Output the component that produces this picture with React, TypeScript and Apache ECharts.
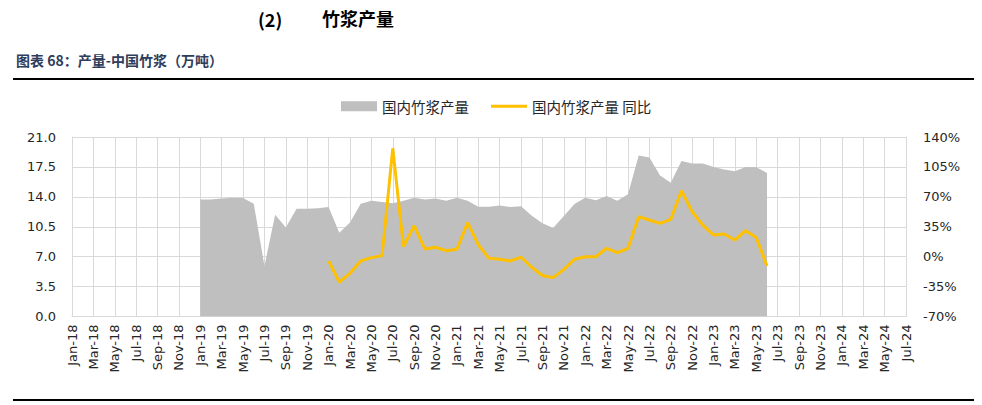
import React, { useEffect, useRef } from "react";
import * as echarts from "echarts";

const monthNames = ["Jan", "Feb", "Mar", "Apr", "May", "Jun", "Jul", "Aug", "Sep", "Oct", "Nov", "Dec"];
const years = [18, 19, 20, 21, 22, 23, 24];
const categories: string[] = [];
for (const y of years) {
  for (const m of monthNames) {
    categories.push(`${m}-${y}`);
  }
}
categories.length = 79; // Jan-18 .. Jul-24

// 国内竹浆产量 (万吨), Jan-19 .. Jun-23
const outputStart = 12;
const outputValues = [
  13.7, 13.7, 13.8, 13.9, 13.85, 13.2, 5.9, 11.9, 10.4, 12.6, 12.6, 12.65,
  12.8, 9.8, 11.0, 13.2, 13.55, 13.4, 13.25, 13.55, 13.9, 13.7, 13.8, 13.55,
  13.9, 13.55, 12.85, 12.85, 13.0, 12.8, 12.9, 11.8, 10.9, 10.35, 11.75, 13.15,
  13.9, 13.6, 14.1, 13.55, 14.3, 18.85, 18.6, 16.5, 15.65, 18.2, 17.9, 17.9,
  17.5, 17.2, 17.0, 17.5, 17.45, 16.8,
];

// 国内竹浆产量 同比 (%), Jan-20 .. Jun-23
const yoyStart = 24;
const yoyValues = [
  -5, -29.6, -19.5, -5, -1.1, 1.2, 126.8, 11.7, 36.3, 9, 11, 7,
  8.6, 39.8, 14, -1.9, -3, -5, -0.7, -12.4, -22, -24.5, -14.8, -3,
  0, 0, 9.8, 4.7, 9.8, 46.8, 42.9, 39, 43.7, 77.2, 52.6, 37,
  25.4, 26.6, 19.5, 30.4, 22.3, -10.9,
];

const leftTicks = { min: 0, max: 21, interval: 3.5 };
const rightTicks = { min: -70, max: 140, interval: 35 };

function fill(start: number, values: number[]): (number | null)[] {
  return categories.map((_, i) =>
    i >= start && i < start + values.length ? values[i - start] : null
  );
}

const FONT = "'DejaVu Sans', 'Noto Sans', sans-serif";
const CJK = "'Noto Sans CJK SC', 'Noto Sans', sans-serif";

export default function App() {
  const ref = useRef<HTMLDivElement>(null);
  useEffect(() => {
    if (!ref.current) return;
    const chart = echarts.init(ref.current, undefined, { renderer: "svg" });
    chart.setOption({
      animation: false,
      backgroundColor: "#ffffff",
      graphic: [
        {
          type: "text",
          left: 258,
          top: 10,
          style: { text: "(2)", font: `bold 18px ${CJK}`, fill: "#000000" },
        },
        {
          type: "text",
          left: 322,
          top: 9,
          style: { text: "竹浆产量", font: `bold 18px ${CJK}`, fill: "#000000" },
        },
        {
          type: "text",
          left: 16,
          top: 53,
          style: { text: "图表 68：产量-中国竹浆（万吨）", font: `bold 14px ${CJK}`, fill: "#2e3d5c" },
        },
        {
          type: "line",
          shape: { x1: 13, y1: 79, x2: 974, y2: 79 },
          style: { stroke: "#000000", lineWidth: 2 },
        },
        {
          type: "line",
          shape: { x1: 13, y1: 400, x2: 974, y2: 400 },
          style: { stroke: "#000000", lineWidth: 2 },
        },
      ],
      legend: {
        left: 336,
        top: 94,
        itemWidth: 36,
        itemHeight: 10,
        itemGap: 22,
        textStyle: { fontFamily: CJK, fontSize: 14.5, color: "#262626" },
        data: [
          { name: "国内竹浆产量", icon: "rect", itemStyle: { color: "#bfbfbf" } },
          { name: "国内竹浆产量 同比", icon: "path://M0,0 H36 V3 H0 Z", itemStyle: { color: "#ffc000" } },
        ],
      },
      grid: { left: 72, right: 76, top: 137, bottom: 88.5 },
      xAxis: {
        type: "category",
        data: categories,
        boundaryGap: false,
        axisLine: { show: true, lineStyle: { color: "#d9d9d9" } },
        axisTick: { show: false },
        axisLabel: {
          interval: 1,
          rotate: 90,
          fontFamily: FONT,
          fontSize: 13,
          color: "#262626",
          margin: 8,
        },
        splitLine: { show: true, interval: 1, lineStyle: { color: "#d9d9d9" } },
      },
      yAxis: [
        {
          type: "value",
          ...leftTicks,
          axisLine: { show: true, lineStyle: { color: "#d9d9d9" } },
          axisTick: { show: false },
          axisLabel: {
            fontFamily: FONT,
            fontSize: 13,
            color: "#262626",
            margin: 16,
            formatter: (v: number) => v.toFixed(1),
          },
          splitLine: { show: true, lineStyle: { color: "#d9d9d9" } },
        },
        {
          type: "value",
          ...rightTicks,
          axisLine: { show: true, lineStyle: { color: "#d9d9d9" } },
          axisTick: { show: false },
          axisLabel: {
            fontFamily: FONT,
            fontSize: 13,
            color: "#262626",
            margin: 17,
            formatter: (v: number) => `${v}%`,
          },
          splitLine: { show: false },
        },
      ],
      series: [
        {
          name: "国内竹浆产量",
          type: "line",
          data: fill(outputStart, outputValues),
          symbol: "none",
          lineStyle: { width: 0, color: "#bfbfbf" },
          itemStyle: { color: "#bfbfbf" },
          areaStyle: { color: "#bfbfbf", opacity: 1 },
        },
        {
          name: "国内竹浆产量 同比",
          type: "line",
          yAxisIndex: 1,
          data: fill(yoyStart, yoyValues),
          symbol: "none",
          lineStyle: { width: 3, color: "#ffc000" },
          itemStyle: { color: "#ffc000" },
          z: 3,
        },
      ],
    });
    return () => chart.dispose();
  }, []);
  return (
    <div
      ref={ref}
      style={{ position: "absolute", left: 0, top: 0, width: 982, height: 405 }}
    />
  );
}
